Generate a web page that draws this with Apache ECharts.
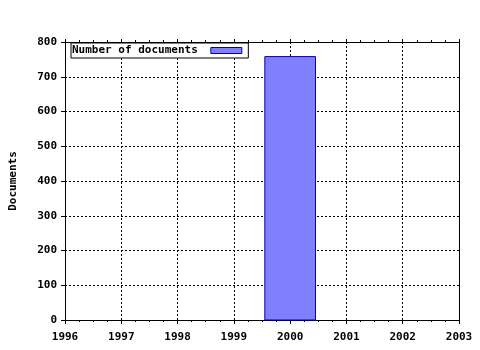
<!DOCTYPE html>
<html><head><meta charset="utf-8">
<script src="https://cdn.jsdelivr.net/npm/echarts@6/dist/echarts.min.js"></script>
<style>html,body{margin:0;padding:0;background:#fff}#c{width:480px;height:350px}</style>
</head><body><div id="c"></div>
<script>
const years = [2000];
const documents = [758];
const xTicks = [1996, 1997, 1998, 1999, 2000, 2001, 2002, 2003];
const yTicks = [0, 100, 200, 300, 400, 500, 600, 700, 800];
const seriesName = 'Number of documents';
const yTitle = 'Documents';

const FONT = 'DejaVu Sans Mono';
const chart = echarts.init(document.getElementById('c'), null, {renderer: 'canvas'});
const gridLine = {show: true, lineStyle: {color: '#000', type: [2, 2], width: 1}};
const lbl = {color: '#000', fontFamily: FONT, fontWeight: 'bold', fontSize: 11};
chart.setOption({
  animation: false,
  backgroundColor: '#fff',
  grid: {left: 65, right: 21, top: 42, bottom: 30, containLabel: false, outerBoundsMode: 'none'},
  legend: {
    show: true, left: 71, top: 43, orient: 'horizontal', align: 'right',
    backgroundColor: '#fff', borderColor: '#000', borderWidth: 1,
    padding: [2, 6, 2, 1], itemWidth: 31, itemHeight: 6,
    textStyle: Object.assign({padding: [0, 8, 0, 0]}, lbl),
    itemStyle: {color: '#8080ff', borderColor: '#0000b0', borderWidth: 1},
    data: [{name: seriesName, icon: 'rect'}]
  },
  xAxis: [{
    type: 'value', min: xTicks[0], max: xTicks[xTicks.length - 1], interval: 1,
    position: 'bottom',
    axisLine: {show: true, onZero: false, lineStyle: {color: '#000', width: 1}},
    axisTick: {show: true, inside: false, length: 4, lineStyle: {color: '#000'}},
    minorTick: {show: true, splitNumber: 4, length: 2, lineStyle: {color: '#000'}},
    axisLabel: Object.assign({margin: 12, formatter: v => String(v)}, lbl),
    splitLine: gridLine
  }, {
    type: 'value', min: xTicks[0], max: xTicks[xTicks.length - 1], interval: 1,
    position: 'top',
    axisLine: {show: true, onZero: false, lineStyle: {color: '#000', width: 1}},
    axisTick: {show: true, inside: false, length: 3, lineStyle: {color: '#000'}},
    minorTick: {show: true, splitNumber: 4, length: 2, lineStyle: {color: '#000'}},
    axisLabel: {show: false}, splitLine: {show: false}
  }],
  yAxis: [{
    type: 'value', min: yTicks[0], max: yTicks[yTicks.length - 1], interval: 100,
    position: 'left',
    name: yTitle, nameLocation: 'middle', nameGap: 46, nameRotate: 90,
    nameTextStyle: lbl,
    axisLine: {show: true, onZero: false, lineStyle: {color: '#000', width: 1}},
    axisTick: {show: true, inside: false, length: 4, lineStyle: {color: '#000'}},
    axisLabel: Object.assign({margin: 8}, lbl),
    splitLine: gridLine
  }, {
    type: 'value', min: yTicks[0], max: yTicks[yTicks.length - 1], interval: 100,
    position: 'right',
    axisLine: {show: true, onZero: false, lineStyle: {color: '#000', width: 1}},
    axisTick: {show: false}, axisLabel: {show: false}, splitLine: {show: false}
  }],
  series: [{
    name: seriesName,
    type: 'custom',
    xAxisIndex: 0, yAxisIndex: 0,
    itemStyle: {color: '#8080ff', borderColor: '#0000b0', borderWidth: 1},
    data: years.map((y, i) => [y, documents[i]]),
    renderItem: function (params, api) {
      const x = api.value(0), v = api.value(1);
      const p0 = api.coord([x - 0.45, v]);
      const p1 = api.coord([x + 0.45, 0]);
      return {
        type: 'rect',
        shape: {x: p0[0], y: p0[1], width: p1[0] - p0[0], height: p1[1] - p0[1]},
        style: {fill: '#8080ff', stroke: '#0000b0', lineWidth: 1}
      };
    },
    z: 3
  }]
});
</script></body></html>
